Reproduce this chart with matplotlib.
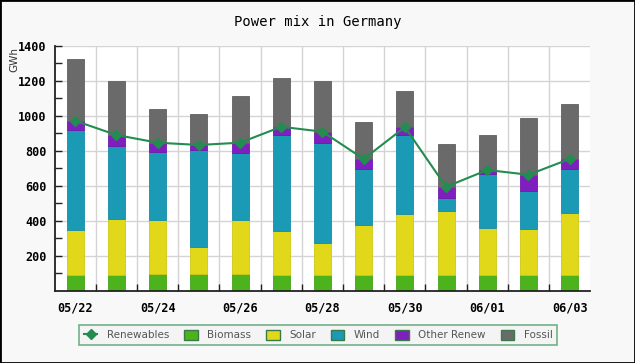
import numpy as np
import matplotlib
matplotlib.use("Agg")
import matplotlib.pyplot as plt
from matplotlib.lines import Line2D
from matplotlib.patches import Patch

# datos (GWh)
dias = ["05/22", "05/23", "05/24", "05/25", "05/26", "05/27", "05/28",
        "05/29", "05/30", "05/31", "06/01", "06/02", "06/03"]
biomass = [90, 90, 95, 95, 95, 90, 90, 90, 90, 90, 90, 90, 90]
solar = [255, 321, 311, 155, 311, 249, 181, 285, 348, 364, 270, 264, 354]
wind = [573, 416, 388, 554, 379, 551, 575, 320, 452, 76, 307, 217, 251]
other = [53, 63, 52, 29, 61, 47, 63, 58, 45, 64, 23, 92, 58]
fossil = [353, 308, 192, 175, 268, 277, 289, 213, 208, 243, 198, 324, 312]
renewables = [971, 890, 846, 833, 846, 937, 909, 753, 935, 594, 690, 663, 753]

colores = {"Biomass": "#4db31c", "Solar": "#e2d81a", "Wind": "#1a9ab5",
           "Other Renew": "#7f1fc0", "Fossil": "#6a6a6a"}
bordes = {"Biomass": "#45a31a", "Solar": "#cfc615", "Wind": "#188ca5",
          "Other Renew": "#7019ab", "Fossil": "#606060"}
verde = "#248c50"

fig = plt.figure(figsize=(6.35, 3.63), dpi=100, facecolor="#f8f8f8")
ax = fig.add_axes([0.0861, 0.199, 0.8435, 0.675])
ax.set_facecolor("white")

x = np.arange(len(dias))
base = np.zeros(len(dias))
for nombre, vals in [("Biomass", biomass), ("Solar", solar), ("Wind", wind),
                     ("Other Renew", other), ("Fossil", fossil)]:
    ax.bar(x, vals, 0.41, bottom=base, color=colores[nombre],
           edgecolor=bordes[nombre], linewidth=0.6, zorder=2)
    base += np.array(vals)

ax.plot(x, renewables, color=verde, lw=1.5, marker="D", ms=5, zorder=3)

ax.set_xlim(-0.5, 12.5)
ax.set_ylim(0, 1400)
ax.set_xticks(x[::2])
ax.set_xticklabels(dias[::2])
ax.set_xticks(x[:-1] + 0.5, minor=True)
ax.set_yticks(np.arange(200, 1401, 200))
ax.set_yticks(np.arange(100, 1400, 200), minor=True)
ax.grid(True, axis="y", which="major", color="#d4d4d4", lw=1, zorder=0)
ax.grid(True, axis="x", which="minor", color="#d4d4d4", lw=1, zorder=0)
ax.set_axisbelow(True)

for s in ["top", "right"]:
    ax.spines[s].set_visible(False)
ax.spines["left"].set_color("#222222")
ax.spines["bottom"].set_color("#222222")
ax.spines["left"].set_linewidth(1.3)
ax.spines["bottom"].set_linewidth(1.3)
ax.tick_params(axis="both", which="both", direction="in", length=5,
               color="#222222", width=1)
ax.tick_params(axis="x", which="major", length=0, pad=8)
ax.tick_params(axis="y", which="major", pad=6)
for t in ax.get_xticklabels() + ax.get_yticklabels():
    t.set_fontfamily("DejaVu Sans Mono")
    t.set_fontweight("bold")
    t.set_fontsize(8.5)

fig.text(0.5, 0.94, "Power mix in Germany", ha="center", va="center",
         fontsize=10, family="DejaVu Sans Mono")
fig.text(0.022, 0.835, "GWh", rotation=90, ha="center", va="center",
         fontsize=7.5, color="#333333")

handles = [Line2D([], [], color=verde, lw=1.5, marker="D", ms=5)]
etiquetas = ["Renewables"]
for nombre in ["Biomass", "Solar", "Wind", "Other Renew", "Fossil"]:
    handles.append(Patch(facecolor=colores[nombre], edgecolor="#3a7a4a"))
    etiquetas.append(nombre)
leg = fig.legend(handles, etiquetas, loc="center", bbox_to_anchor=(0.501, 0.077),
                 ncol=6, frameon=True, fancybox=False, fontsize=7.5,
                 handlelength=1.3, handleheight=1.1, columnspacing=1.45,
                 borderpad=0.45, handletextpad=0.9)
leg.get_frame().set_edgecolor("#4f9f6f")
leg.get_frame().set_facecolor("#f4f4f4")
leg.get_frame().set_linewidth(1.2)
for t in leg.get_texts():
    t.set_color("#555555")

fig.patches.append(plt.Rectangle((0, 0), 1, 1, transform=fig.transFigure,
                                 fill=False, edgecolor="black", lw=2))

plt.savefig("out.png", dpi=100, facecolor=fig.get_facecolor())
